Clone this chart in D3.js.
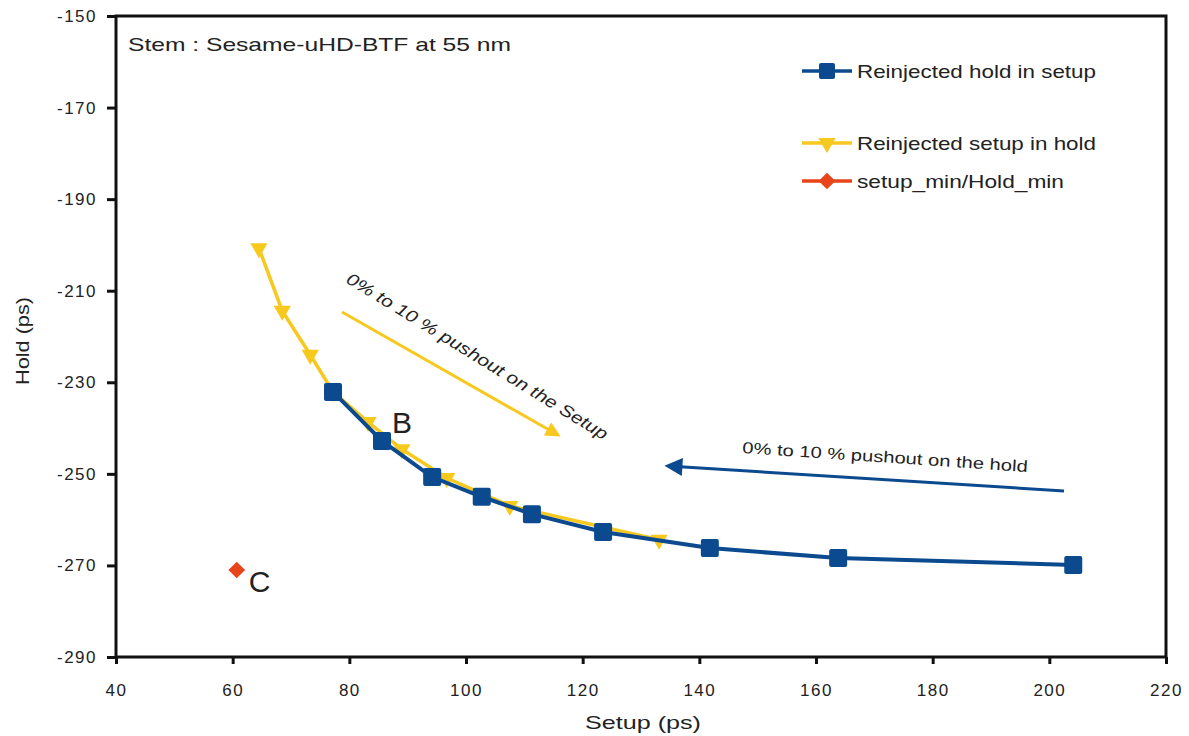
<!DOCTYPE html>
<html>
<head>
<meta charset="utf-8">
<script src="https://cdn.jsdelivr.net/npm/d3@7"></script>
<style>
  body { margin: 0; background: #fff; }
  text { font-family: "Liberation Sans", Arial, sans-serif; fill: #222; }
</style>
</head>
<body>
<div class="content"></div>
<script>
// data
var holdInSetupX = [77.2, 85.6, 94.2, 102.7, 111.3, 123.5, 141.8, 163.8, 204.1];
var holdInSetupY = [-232.1, -242.8, -250.7, -255.0, -258.8, -262.7, -266.2, -268.4, -269.9];
var setupInHoldX = [64.5, 68.5, 73.3, 77.2, 83.2, 89.0, 96.7, 107.5, 133.1];
var setupInHoldY = [-200.7, -214.4, -224.0, -232.1, -238.7, -244.6, -250.9, -257.0, -264.4];
var minX = [60.7];
var minY = [-271.0];
var xTicks = [40, 60, 80, 100, 120, 140, 160, 180, 200, 220];
var yTicks = [-150, -170, -190, -210, -230, -250, -270, -290];

var blue = '#0b4a8e', yellow = '#f7c81e', red = '#e8451c';

var W = 1189, H = 736;
var pLeft = 116, pRight = 1166, pTop = 16, pBottom = 657;

var svg = d3.select('.content').append('svg').attr('width', W).attr('height', H);

var x = d3.scaleLinear().domain([40, 220]).range([pLeft, pRight]);
var y = d3.scaleLinear().domain([-150, -290]).range([pTop, pBottom]);

function label(t, len) {
    // stretch text to the width it has in the picture
    return t.attr('textLength', len).attr('lengthAdjust', 'spacingAndGlyphs');
}

// frame
svg.append('rect').attr('x', pLeft).attr('y', pTop).attr('width', pRight - pLeft).attr('height', pBottom - pTop)
    .attr('fill', 'none').attr('stroke', '#111').attr('stroke-width', 3);

var xAxis = svg.append('g').attr('transform', 'translate(0,' + pBottom + ')')
    .call(d3.axisBottom(x).tickValues(xTicks).tickSize(9).tickPadding(18));
var yAxis = svg.append('g').attr('transform', 'translate(' + pLeft + ',0)')
    .call(d3.axisLeft(y).tickValues(yTicks).tickSize(9).tickPadding(10).tickFormat(function(d) { return d; }));
[xAxis, yAxis].forEach(function(a) {
    a.select('.domain').remove();
    a.selectAll('line').attr('stroke', '#111').attr('stroke-width', 3);
    a.selectAll('text').style('font-size', '17px').style('letter-spacing', '1.5px').attr('fill', '#222');
});
xAxis.selectAll('line').attr('y2', 7);

label(svg.append('text').attr('x', 585).attr('y', 729).style('font-size', '19px').text('Setup (ps)'), 116);
label(svg.append('text').attr('transform', 'translate(29,385) rotate(-90)')
    .style('font-size', '18px').text('Hold (ps)'), 88);

label(svg.append('text').attr('x', 128).attr('y', 51).style('font-size', '19px').text('Stem : Sesame-uHD-BTF at 55 nm'), 383);

var line = d3.line().x(function(d) { return x(d[0]); }).y(function(d) { return y(d[1]); });
var yellowPts = setupInHoldX.map(function(v, i) { return [v, setupInHoldY[i]]; });
var bluePts = holdInSetupX.map(function(v, i) { return [v, holdInSetupY[i]]; });

svg.append('path').datum(yellowPts).attr('d', line).attr('fill', 'none').attr('stroke', yellow).attr('stroke-width', 3.5);
var tri = d3.symbol().type(d3.symbolTriangle).size(130);
svg.selectAll('.tri').data(yellowPts).enter().append('path')
    .attr('d', tri).attr('fill', yellow)
    .attr('transform', function(d) { return 'translate(' + x(d[0]) + ',' + y(d[1]) + ') rotate(180)'; });

svg.append('path').datum(bluePts).attr('d', line).attr('fill', 'none').attr('stroke', blue).attr('stroke-width', 4);
svg.selectAll('.sq').data(bluePts).enter().append('rect')
    .attr('x', function(d) { return x(d[0]) - 9; }).attr('y', function(d) { return y(d[1]) - 9; })
    .attr('width', 18).attr('height', 18).attr('rx', 2).attr('fill', blue);

// diamond = square turned by 45 degrees
var diamond = d3.symbol().type(d3.symbolSquare).size(140);
svg.selectAll('.dia').data(minX).enter().append('path')
    .attr('d', diamond).attr('fill', red)
    .attr('transform', function(d, i) { return 'translate(' + x(d) + ',' + y(minY[i]) + ') rotate(45)'; });

// point labels
svg.append('text').attr('x', x(85.6) + 10).attr('y', y(-242.8) - 8).style('font-size', '30px').attr('fill', '#111').text('B');
svg.append('text').attr('x', x(60.7) + 12).attr('y', y(-271.0) + 22).style('font-size', '30px').attr('fill', '#111').text('C');

// annotation arrows
var defs = svg.append('defs');
[['arrY', yellow, 6], ['arrB', blue, 7]].forEach(function(a) {
    defs.append('marker').attr('id', a[0]).attr('viewBox', '0 0 10 10').attr('refX', 8).attr('refY', 5)
        .attr('markerWidth', a[2]).attr('markerHeight', a[2] - 1).attr('orient', 'auto')
        .append('path').attr('d', 'M0,0 L10,5 L0,10 z').attr('fill', a[1]);
});
svg.append('line').attr('x1', 342).attr('y1', 312).attr('x2', 558).attr('y2', 435)
    .attr('stroke', yellow).attr('stroke-width', 3).attr('marker-end', 'url(#arrY)');
svg.append('line').attr('x1', 1064).attr('y1', 491).attr('x2', 668).attr('y2', 466)
    .attr('stroke', blue).attr('stroke-width', 3).attr('marker-end', 'url(#arrB)');

label(svg.append('text').attr('transform', 'translate(345,282) rotate(31.5)').style('font-size', '17px')
    .style('font-style', 'italic').text('0% to 10 % pushout on the Setup'), 303);
label(svg.append('text').attr('transform', 'translate(742,453) rotate(3.8)').style('font-size', '16px')
    .text('0% to 10 % pushout on the hold'), 286);

// legend
var legend = [
    { label: 'Reinjected hold in setup', color: blue, y: 71, shape: 'sq', len: 239 },
    { label: 'Reinjected setup in hold', color: yellow, y: 143, shape: 'tri', len: 239 },
    { label: 'setup_min/Hold_min', color: red, y: 181, shape: 'dia', len: 207 }
];
legend.forEach(function(l) {
    svg.append('line').attr('x1', 802).attr('x2', 852).attr('y1', l.y).attr('y2', l.y)
        .attr('stroke', l.color).attr('stroke-width', 3.5);
    if (l.shape == 'sq') {
        svg.append('rect').attr('x', 819).attr('y', l.y - 8).attr('width', 16).attr('height', 16).attr('rx', 2).attr('fill', l.color);
    } else if (l.shape == 'tri') {
        svg.append('path').attr('d', tri).attr('fill', l.color).attr('transform', 'translate(827,' + l.y + ') rotate(180)');
    } else {
        svg.append('path').attr('d', diamond).attr('fill', l.color).attr('transform', 'translate(827,' + l.y + ') rotate(45)');
    }
    label(svg.append('text').attr('x', 857).attr('y', l.y + 7).style('font-size', '19px').text(l.label), l.len);
});
</script>
</body>
</html>
